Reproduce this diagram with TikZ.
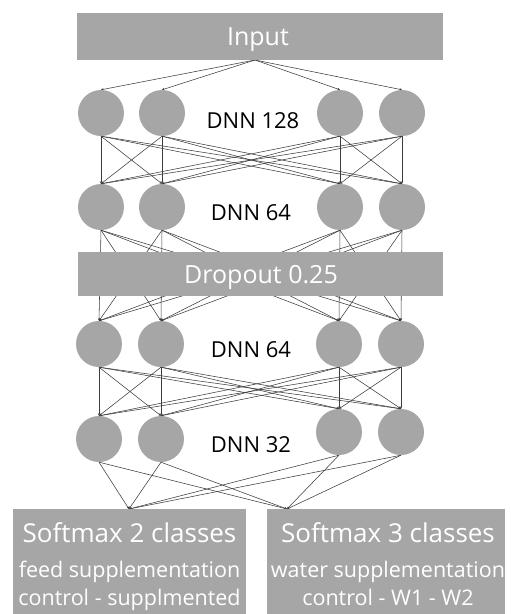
\documentclass[tikz,border=0pt]{standalone}
\usepackage{fontspec}
\setmainfont{Open Sans}
\usetikzlibrary{arrows.meta}
\pgfdeclarelayer{background}
\pgfsetlayers{background,main}
\definecolor{boxgray}{RGB}{166,166,166}
\definecolor{linegray}{RGB}{60,60,60}
\begin{document}
\begin{tikzpicture}[x=1pt,y=-1pt,
  neuron/.style={circle,fill=boxgray,draw=none,minimum size=46pt,inner sep=0pt},
  graybox/.style={fill=boxgray,draw=none,inner sep=0pt},
  conn/.style={draw=linegray,line width=0.55pt,-{Stealth[length=2.6pt,width=2.4pt]}},
  boxtext/.style={text=white,anchor=base,inner sep=0pt},
  layertext/.style={text=black,anchor=base,inner sep=0pt,font=\fontsize{22}{26}\selectfont}
]
\useasboundingbox (0,0) rectangle (511,614);
% boxes
\node[graybox,minimum width=366pt,minimum height=47pt] (input) at (260,36.5) {};
\node[boxtext,font=\fontsize{25}{30}\selectfont] (inputtxt) at (258,45) {Input};
\node[graybox,minimum width=365pt,minimum height=44pt] (drop) at (260.5,274) {};
\node[boxtext,font=\fontsize{25}{30}\selectfont] (droptxt) at (261,283) {Dropout 0.25};
\node[graybox,minimum width=233pt,minimum height=105pt] (outa) at (129.5,561.5) {};
\node[graybox,minimum width=238pt,minimum height=105pt] (outb) at (386,561.5) {};
\node[boxtext,font=\fontsize{26}{30}\selectfont] (oa1) at (129.5,542) {Softmax 2 classes};
\node[boxtext,font=\fontsize{21.5}{26}\selectfont] (oa2) at (129.5,577) {feed supplementation};
\node[boxtext,font=\fontsize{21.5}{26}\selectfont] (oa3) at (129.5,605) {control - supplmented};
\node[boxtext,font=\fontsize{26}{30}\selectfont] (ob1) at (388,542) {Softmax 3 classes};
\node[boxtext,font=\fontsize{21.5}{26}\selectfont] (ob2) at (388,577) {water supplementation};
\node[boxtext,font=\fontsize{21.5}{26}\selectfont] (ob3) at (388,605) {control - W1 - W2};
% neurons
\node[neuron] (n1a) at (101,113) {};
\node[neuron] (n1b) at (162,113) {};
\node[neuron] (n1c) at (340,113) {};
\node[neuron] (n1d) at (402,113) {};
\node[layertext] (t1) at (253,128) {DNN 128};
\node[neuron] (n2a) at (101,207) {};
\node[neuron] (n2b) at (162,207) {};
\node[neuron] (n2c) at (340,207) {};
\node[neuron] (n2d) at (402,207) {};
\node[layertext] (t2) at (251,220) {DNN 64};
\node[neuron] (n3a) at (99,344) {};
\node[neuron] (n3b) at (161,344) {};
\node[neuron] (n3c) at (339,344) {};
\node[neuron] (n3d) at (401,344) {};
\node[layertext] (t3) at (251,357) {DNN 64};
\node[neuron] (n4a) at (99,439) {};
\node[neuron] (n4b) at (161,439) {};
\node[neuron] (n4c) at (339,432) {};
\node[neuron] (n4d) at (401,432) {};
\node[layertext] (t4) at (251,452) {DNN 32};
\coordinate (inp) at (255,60);
\coordinate (outaIn) at (129,509);
\coordinate (outbIn) at (287,509);
% connections
\begin{pgfonlayer}{background}
\foreach \t in {a,b,c,d} {
  \draw[conn] (inp) -- (n1\t.north);
}
\foreach \s in {a,b,c,d} {
  \foreach \t in {a,b,c,d} {
    \draw[conn] (n1\s.south) -- (n2\t.north);
    \draw[conn] (n2\s.south) -- (n3\t.north);
    \draw[conn] (n3\s.south) -- (n4\t.north);
  }
  \draw[conn] (n4\s.south) -- (outaIn);
  \draw[conn] (n4\s.south) -- (outbIn);
}
\end{pgfonlayer}
\end{tikzpicture}
\end{document}
